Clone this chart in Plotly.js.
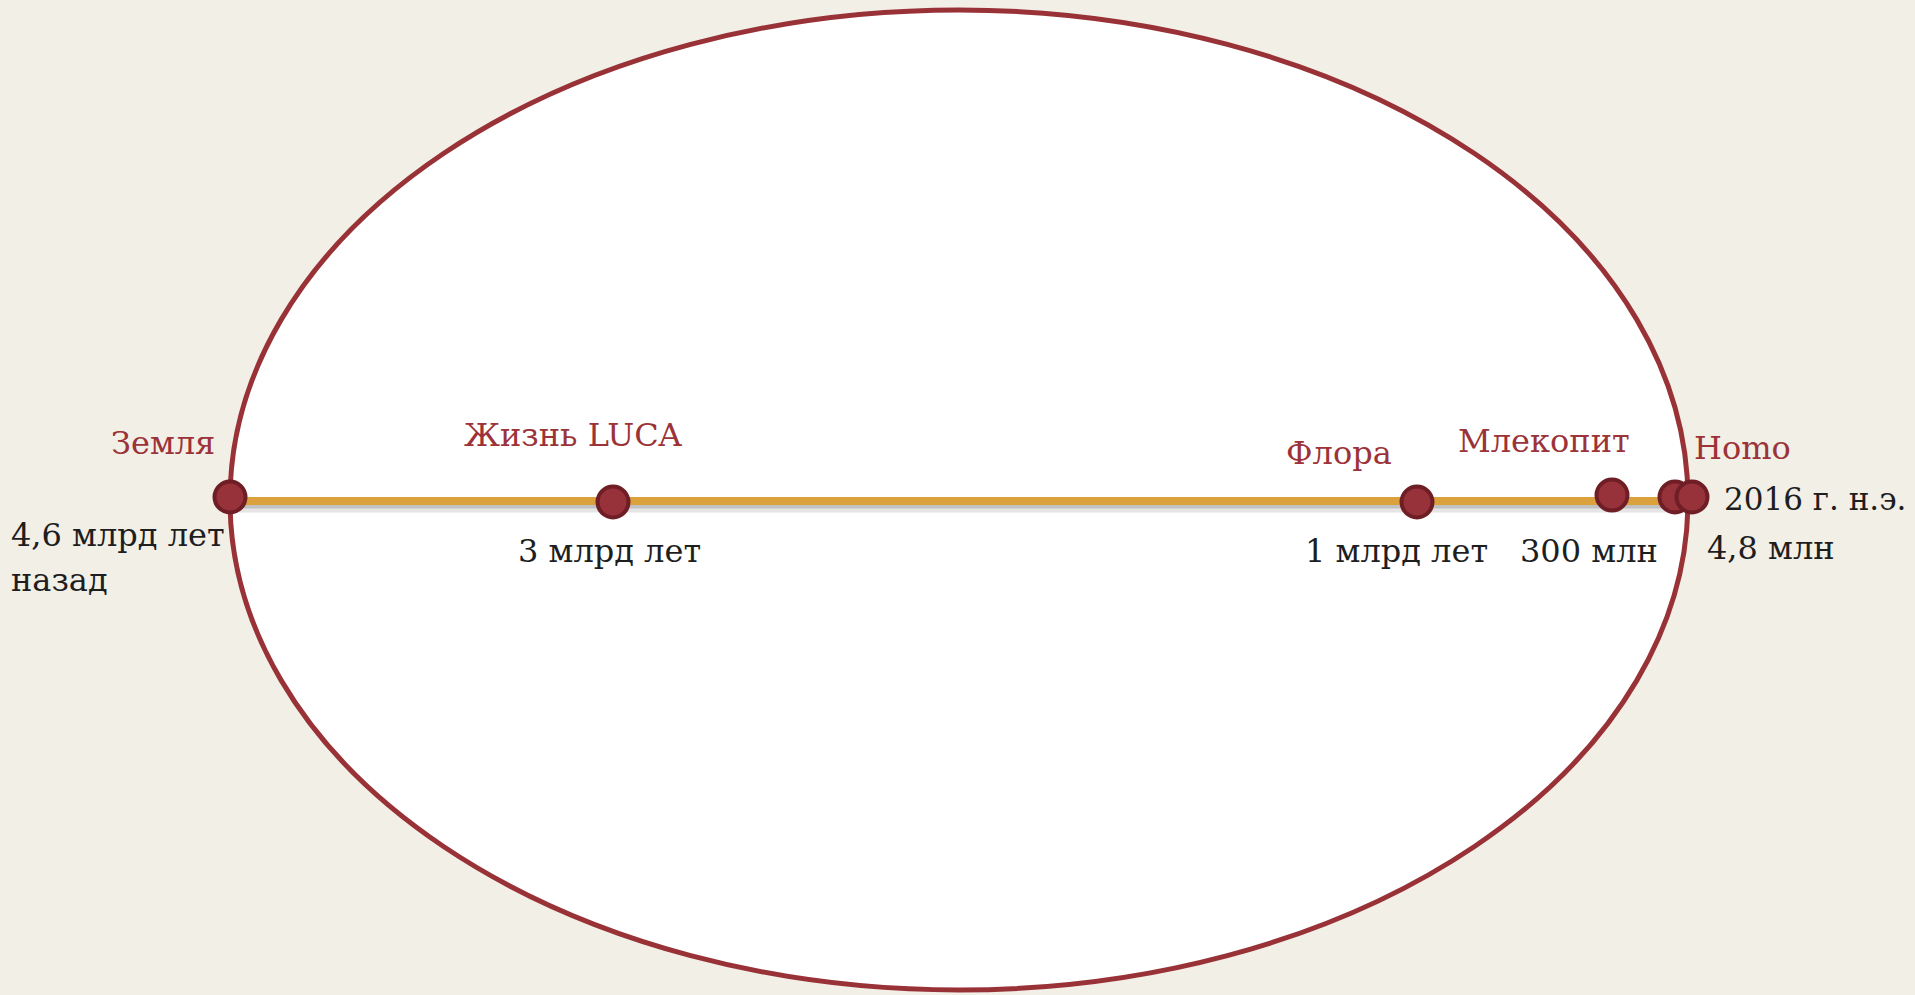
<!DOCTYPE html>
<html>
<head>
<meta charset="utf-8">
<script src="https://cdn.plot.ly/plotly-3.0.1.min.js"></script>
<style>
  html, body { margin: 0; padding: 0; background: #F2EFE7; }
  #chart { width: 1915px; height: 995px; }
</style>
</head>
<body>
<div id="chart"></div>
<script>
// ---- data ----
const eventNames = ['Земля', 'Жизнь LUCA', 'Флора', 'Млекопит', 'Homo', '2016 г. н.э.'];
const timeLabels = ['4,6 млрд лет назад', '3 млрд лет', '1 млрд лет', '300 млн', '4,8 млн', ''];
// position of each event along the drawn timeline (picture units)
const timelinePos = [230, 613, 1417, 1612, 1675, 1692];
// vertical position of each dot (picture units)
const dotLevel = [497, 502, 502, 495, 497, 497];
const timelineLevel = 501;

// ---- styles / placement ----
const RED = '#9B3338';
const DOT_FILL = '#97323A';
const DOT_EDGE = '#6E1E24';
const GOLD = '#DBA13C';
const INK = '#1E1E1E';
const FONT = 'DejaVu Serif, Liberation Serif, serif';

// label placement: [left x, baseline y]
const namePlace = [
  [110, 455], [463, 447], [1285, 465], [1457, 453], [1693, 460], [1723, 510]
];
const timePlace = [
  [[10, 547], [10, 592]], [[517, 563]], [[1304, 563]], [[1519, 563]], [[1706, 560]], []
];

const lineStart = timelinePos[0];
const lineEnd = timelinePos[timelinePos.length - 1];

const traces = [
  // soft shadow under the timeline
  { x: [lineStart, lineEnd], y: [timelineLevel + 7, timelineLevel + 7], mode: 'lines',
    line: { color: 'rgba(110,110,110,0.18)', width: 9 }, hoverinfo: 'skip', showlegend: false },
  { x: [lineStart, lineEnd], y: [timelineLevel + 5, timelineLevel + 5], mode: 'lines',
    line: { color: 'rgba(110,110,110,0.30)', width: 5 }, hoverinfo: 'skip', showlegend: false },
  // the timeline itself
  { x: [lineStart, lineEnd], y: [timelineLevel, timelineLevel], mode: 'lines',
    line: { color: GOLD, width: 8 }, hoverinfo: 'skip', showlegend: false },
  // event dots
  { x: timelinePos, y: dotLevel, mode: 'markers', text: eventNames,
    marker: { size: 31, color: DOT_FILL, line: { color: DOT_EDGE, width: 4 } },
    hoverinfo: 'text', showlegend: false }
];

function ann(text, left, baseline, size, color) {
  return {
    x: left, y: baseline - 0.36 * size, xref: 'x', yref: 'y',
    text: text, showarrow: false, xanchor: 'left', yanchor: 'middle',
    font: { family: FONT, size: size, color: color }, borderpad: 0
  };
}

const annotations = [];
eventNames.forEach((name, i) => {
  const p = namePlace[i];
  const isNow = (i === eventNames.length - 1);
  annotations.push(ann(name, p[0], p[1], isNow ? 31 : 32, isNow ? INK : RED));
});
timeLabels.forEach((lab, i) => {
  const places = timePlace[i];
  if (!lab || !places.length) return;
  if (places.length === 2) {
    annotations.push(ann(lab.replace(' назад', ''), places[0][0], places[0][1], 32, INK));
    annotations.push(ann('назад', places[1][0], places[1][1], 32, INK));
  } else {
    annotations.push(ann(lab, places[0][0], places[0][1], 32, INK));
  }
});

const layout = {
  width: 1915, height: 995,
  margin: { l: 0, r: 0, t: 0, b: 0, pad: 0 },
  paper_bgcolor: '#F2EFE7',
  plot_bgcolor: 'rgba(0,0,0,0)',
  xaxis: { range: [0, 1915], visible: false, fixedrange: true },
  yaxis: { range: [995, 0], visible: false, fixedrange: true },
  showlegend: false,
  shapes: [{
    type: 'circle', xref: 'x', yref: 'y', layer: 'below',
    x0: 230, x1: 1688, y0: 10, y1: 990,
    fillcolor: '#FFFFFF', line: { color: '#993237', width: 5 }
  }],
  annotations: annotations
};

Plotly.newPlot('chart', traces, layout, { displayModeBar: false, staticPlot: true });
</script>
</body>
</html>
